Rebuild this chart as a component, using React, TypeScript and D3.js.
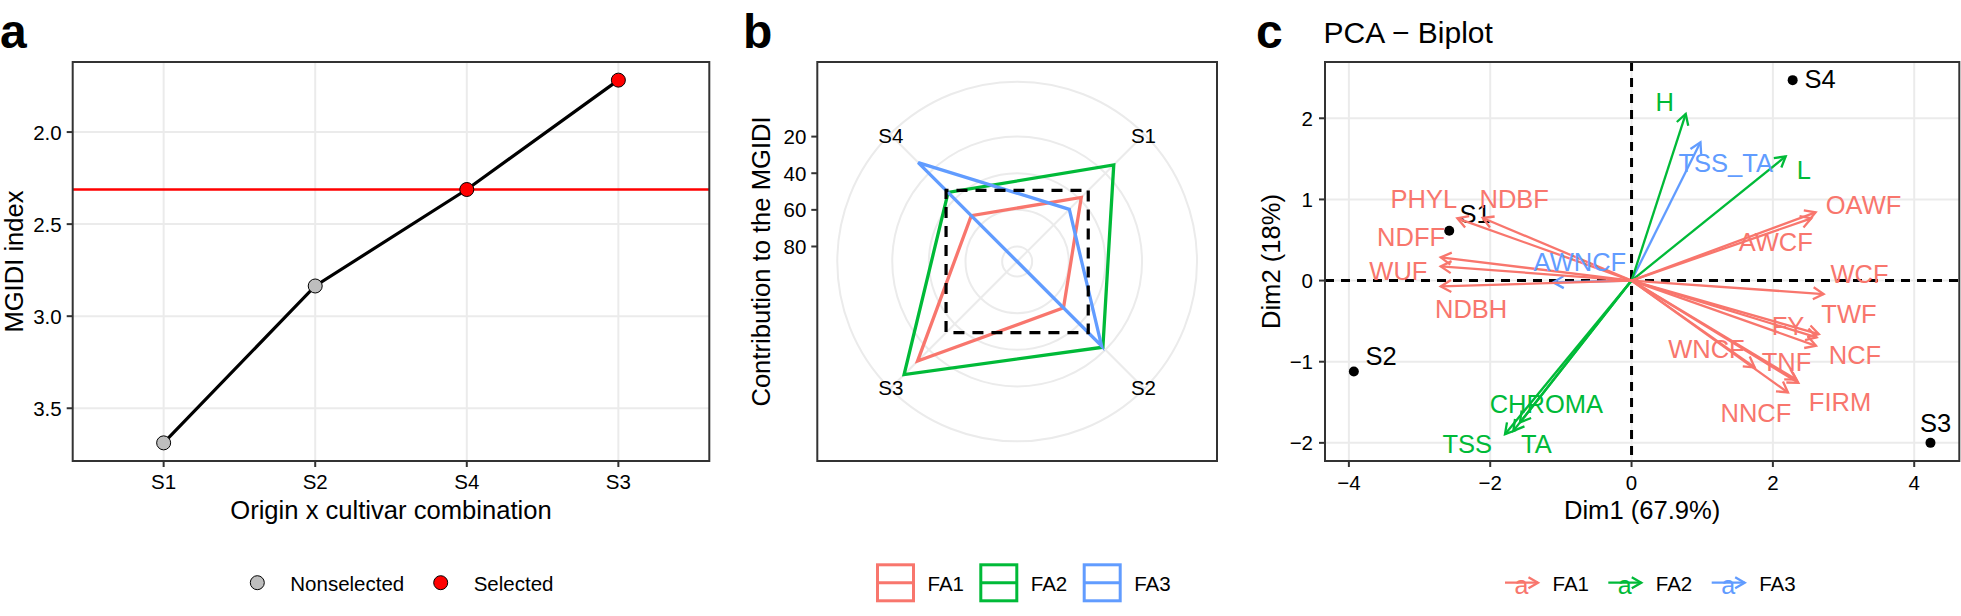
import React from "react";
import * as d3 from "d3";

const FONT = "'Liberation Sans', Arial, Helvetica, sans-serif";
const RED = "#F8766D";
const GREEN = "#00BA38";
const BLUE = "#619CFF";
const GRID = "#EBEBEB";
const BORDER = "#333333";

// ---------- Panel a data ----------
const genotypes = ["S1", "S2", "S4", "S3"];
const mgidiIndex = [3.688, 2.836, 2.312, 1.718];
const selection = ["Nonselected", "Nonselected", "Selected", "Selected"];
const cutoffValue = 2.312;
const mgidiTicks = [2.0, 2.5, 3.0, 3.5];
const selectionLevels = ["Nonselected", "Selected"];

// ---------- Panel b data ----------
const radarGenotypes = ["S1", "S2", "S3", "S4"];
const factorNames = ["FA1", "FA2", "FA3"];
const contribFA1 = [38.7, 52.4, 11.3, 52.8];
const contribFA2 = [13.6, 22.0, 0.9, 34.9];
const contribFA3 = [47.9, 23.0, 88.2, 11.8];
const idealContribution = 33.3;
const contribTicks = [20, 40, 60, 80];

// ---------- Panel c data ----------
const indNames = ["S1", "S2", "S3", "S4"];
const indDim1 = [-2.58, -3.93, 4.23, 2.28];
const indDim2 = [0.615, -1.12, -2.0, 2.47];
const indLabelDim1 = [-2.215, -3.543, 4.301, 2.668];
const indLabelDim2 = [0.82, -0.927, -1.757, 2.485];

const varNames = ["AWNCF", "TSS_TA", "PHYL", "NDBF", "NDFF", "WUF", "NDBH", "OAWF", "AWCF", "WCF", "TWF", "FY", "NCF", "WNCF", "TNF", "FIRM", "NNCF", "H", "L", "CHROMA", "TSS", "TA"];
const varGroup = ["FA3", "FA3", "FA1", "FA1", "FA1", "FA1", "FA1", "FA1", "FA1", "FA1", "FA1", "FA1", "FA1", "FA1", "FA1", "FA1", "FA1", "FA2", "FA2", "FA2", "FA2", "FA2"];
const varDim1 = [-1.108, 0.975, -2.465, -2.106, -2.70, -2.70, -2.70, 2.605, 2.544, 2.718, 2.65, 2.62, 2.61, 1.743, 2.33, 2.36, 2.213, 0.767, 2.181, -1.579, -1.791, -1.673];
const varDim2 = [-0.022, 1.704, 0.767, 0.771, 0.286, 0.175, -0.072, 0.841, 0.767, -0.166, -0.66, -0.70, -0.804, -1.07, -1.22, -1.26, -1.379, 2.053, 1.531, -1.748, -1.893, -1.852];
const varLabelDim1 = [-0.731, 1.333, -2.94, -1.66, -3.12, -3.30, -2.27, 3.283, 2.04, 3.227, 3.077, 2.215, 3.162, 1.06, 2.194, 2.95, 1.76, 0.471, 2.438, -1.206, -2.325, -1.347];
const varLabelDim2 = [0.224, 1.445, 1.005, 1.005, 0.533, 0.121, -0.351, 0.931, 0.478, 0.08, -0.413, -0.557, -0.919, -0.845, -1.009, -1.494, -1.634, 2.2, 1.362, -1.523, -2.016, -2.016];
const dimTicks1 = [-4, -2, 0, 2, 4];
const dimTicks2 = [-2, -1, 0, 1, 2];

const groupColor = d3.scaleOrdinal<string, string>().domain(factorNames).range([RED, GREEN, BLUE]);

const TICK = 20.5;
const TITLE = 25.6;

function expand(ext: [number, number], f = 0.05): [number, number] {
  const r = ext[1] - ext[0];
  return [ext[0] - r * f, ext[1] + r * f];
}

function PanelA() {
  const P = { l: 72.7, r: 709.3, t: 62, b: 461 };
  const x = d3.scalePoint<string>().domain(genotypes).range([P.l, P.r]).padding(0.6);
  const y = d3.scaleLinear().domain(expand(d3.extent(mgidiIndex) as [number, number])).range([P.t, P.b]);
  const line = d3.line<number>().x((_, i) => x(genotypes[i])!).y((d) => y(d));
  const fillOf = (s: string) => (s === "Selected" ? "#FF0000" : "#BEBEBE");
  return (
    <g>
      {genotypes.map((g) => (
        <line key={"gx" + g} x1={x(g)} x2={x(g)} y1={P.t} y2={P.b} stroke={GRID} strokeWidth={2} />
      ))}
      {mgidiTicks.map((t) => (
        <line key={"gy" + t} x1={P.l} x2={P.r} y1={y(t)} y2={y(t)} stroke={GRID} strokeWidth={2} />
      ))}
      <line x1={P.l} x2={P.r} y1={y(cutoffValue)} y2={y(cutoffValue)} stroke="#FF0000" strokeWidth={2.6} />
      <path d={line(mgidiIndex)!} fill="none" stroke="#000" strokeWidth={3.2} />
      {mgidiIndex.map((v, i) => (
        <circle key={"p" + i} cx={x(genotypes[i])} cy={y(v)} r={7} fill={fillOf(selection[i])} stroke="#000" strokeWidth={1} />
      ))}
      <rect x={P.l} y={P.t} width={P.r - P.l} height={P.b - P.t} fill="none" stroke={BORDER} strokeWidth={2} />
      {mgidiTicks.map((t) => (
        <g key={"ty" + t}>
          <line x1={P.l - 6} x2={P.l} y1={y(t)} y2={y(t)} stroke={BORDER} strokeWidth={2} />
          <text x={P.l - 11} y={y(t)} textAnchor="end" dominantBaseline="central" fontSize={TICK} fontFamily={FONT}>{t.toFixed(1)}</text>
        </g>
      ))}
      {genotypes.map((g) => (
        <g key={"tx" + g}>
          <line x1={x(g)} x2={x(g)} y1={P.b} y2={P.b + 6} stroke={BORDER} strokeWidth={2} />
          <text x={x(g)} y={481.5} textAnchor="middle" dominantBaseline="central" fontSize={TICK} fontFamily={FONT}>{g}</text>
        </g>
      ))}
      <text x={(P.l + P.r) / 2} y={510} textAnchor="middle" dominantBaseline="central" fontSize={TITLE} fontFamily={FONT}>Origin x cultivar combination</text>
      <text transform={`translate(14,${(P.t + P.b) / 2}) rotate(-90)`} textAnchor="middle" dominantBaseline="central" fontSize={TITLE} fontFamily={FONT}>MGIDI index</text>
      {/* legend */}
      {selectionLevels.map((s, i) => {
        const cx = [257.3, 440.7][i];
        return (
          <g key={"lg" + s}>
            <circle cx={cx} cy={582.7} r={7} fill={fillOf(s)} stroke="#000" strokeWidth={1} />
            <text x={cx + 33} y={583} dominantBaseline="central" fontSize={TICK} fontFamily={FONT}>{s}</text>
          </g>
        );
      })}
      <text x={0} y={48} fontSize={48} fontWeight="bold" fontFamily={FONT}>a</text>
    </g>
  );
}

function PanelB() {
  const P = { l: 817.3, r: 1217, t: 62, b: 461 };
  const cx = (P.l + P.r) / 2;
  const cy = (P.t + P.b) / 2;
  const allVals = [...contribFA1, ...contribFA2, ...contribFA3];
  const ext = d3.extent(allVals) as [number, number];
  const rMax = 0.4 * (P.r - P.l);
  const rOuter = 0.45 * (P.r - P.l);
  const r = d3.scaleLinear().domain([ext[1], ext[0]]).range([0, rMax]);
  const theta = d3.scalePoint<string>().domain(radarGenotypes).range([Math.PI / 4, (7 * Math.PI) / 4]);
  const pt = (a: number, rad: number): [number, number] => [cx + rad * Math.sin(a), cy - rad * Math.cos(a)];
  const series = [contribFA1, contribFA2, contribFA3];
  const poly = (vals: number[]) => {
    const pts = vals.map((v, i) => pt(theta(radarGenotypes[i])!, r(v)));
    return "M" + pts.map((p) => p.join(",")).join("L") + "Z";
  };
  const ideal = radarGenotypes.map(() => idealContribution);
  return (
    <g>
      {[...contribTicks.map((t) => r(t)), rOuter].map((rad, i) => (
        <circle key={"c" + i} cx={cx} cy={cy} r={rad} fill="none" stroke={GRID} strokeWidth={2} />
      ))}
      {radarGenotypes.map((g) => {
        const [x2, y2] = pt(theta(g)!, rOuter);
        return <line key={"sp" + g} x1={cx} y1={cy} x2={x2} y2={y2} stroke={GRID} strokeWidth={2} />;
      })}
      {series.map((s, i) => (
        <path key={"poly" + i} d={poly(s)} fill="none" stroke={groupColor(factorNames[i])} strokeWidth={3.3} strokeLinejoin="miter" />
      ))}
      <path d={poly(ideal)} fill="none" stroke="#000" strokeWidth={3.2} strokeDasharray="11 8" />
      {radarGenotypes.map((g) => {
        const [lx, ly] = pt(theta(g)!, 178.6);
        return (
          <text key={"lab" + g} x={lx} y={ly} textAnchor="middle" dominantBaseline="central" fontSize={TICK} fontFamily={FONT}>{g}</text>
        );
      })}
      <rect x={P.l} y={P.t} width={P.r - P.l} height={P.b - P.t} fill="none" stroke={BORDER} strokeWidth={2} />
      {contribTicks.map((t) => (
        <g key={"ty" + t}>
          <line x1={P.l - 6} x2={P.l} y1={cy - r(t)} y2={cy - r(t)} stroke={BORDER} strokeWidth={2} />
          <text x={P.l - 11} y={cy - r(t)} textAnchor="end" dominantBaseline="central" fontSize={TICK} fontFamily={FONT}>{t}</text>
        </g>
      ))}
      <text transform={`translate(761,${cy}) rotate(-90)`} textAnchor="middle" dominantBaseline="central" fontSize={TITLE} fontFamily={FONT}>Contribution to the MGIDI</text>
      {factorNames.map((f, i) => {
        const kx = [877.5, 980.8, 1084.2][i];
        return (
          <g key={"lg" + f}>
            <rect x={kx} y={564.8} width={36} height={36} fill="none" stroke={groupColor(f)} strokeWidth={3} />
            <line x1={kx} x2={kx + 36} y1={582.8} y2={582.8} stroke={groupColor(f)} strokeWidth={3} />
            <text x={kx + 50} y={583.3} dominantBaseline="central" fontSize={TICK} fontFamily={FONT}>{f}</text>
          </g>
        );
      })}
      <text x={743} y={48} fontSize={48} fontWeight="bold" fontFamily={FONT}>b</text>
    </g>
  );
}

function arrowHead(x1: number, y1: number, x2: number, y2: number, len = 12, ang = Math.PI / 6) {
  const a = Math.atan2(y2 - y1, x2 - x1);
  const p1 = [x2 - len * Math.cos(a - ang), y2 - len * Math.sin(a - ang)];
  const p2 = [x2 - len * Math.cos(a + ang), y2 - len * Math.sin(a + ang)];
  return `M${p1[0]},${p1[1]}L${x2},${y2}L${p2[0]},${p2[1]}`;
}

function PanelC() {
  const P = { l: 1325, r: 1959.3, t: 62, b: 461 };
  const xs = d3.scaleLinear().domain(expand(d3.extent([...indDim1, ...varDim1]) as [number, number])).range([P.l, P.r]);
  const ys = d3.scaleLinear().domain(expand(d3.extent([...indDim2, ...varDim2]) as [number, number])).range([P.b, P.t]);
  const order = [...factorNames].reverse();
  const idx = varNames.map((_, i) => i).sort((a, b) => order.indexOf(varGroup[a]) - order.indexOf(varGroup[b]));
  const minus = (t: number) => (t < 0 ? "\u2212" + Math.abs(t) : String(t));
  return (
    <g>
      <defs>
        <clipPath id="clipC">
          <rect x={P.l} y={P.t} width={P.r - P.l} height={P.b - P.t} />
        </clipPath>
      </defs>
      {dimTicks1.map((t) => (
        <line key={"gx" + t} x1={xs(t)} x2={xs(t)} y1={P.t} y2={P.b} stroke={GRID} strokeWidth={2} />
      ))}
      {dimTicks2.map((t) => (
        <line key={"gy" + t} x1={P.l} x2={P.r} y1={ys(t)} y2={ys(t)} stroke={GRID} strokeWidth={2} />
      ))}
      <g clipPath="url(#clipC)">
        <line x1={xs(0)} x2={xs(0)} y1={P.t} y2={P.b} stroke="#000" strokeWidth={3} strokeDasharray="9 7" />
        <line x1={P.l} x2={P.r} y1={ys(0)} y2={ys(0)} stroke="#000" strokeWidth={3} strokeDasharray="9 7" />
      </g>
      {indNames.map((n, i) => (
        <circle key={"ind" + n} cx={xs(indDim1[i])} cy={ys(indDim2[i])} r={5} fill="#000" />
      ))}
      {indNames.map((n, i) => (
        <text key={"indl" + n} x={xs(indLabelDim1[i])} y={ys(indLabelDim2[i])} textAnchor="middle" dominantBaseline="central" fontSize={25.5} fontFamily={FONT}>{n}</text>
      ))}
      {idx.map((i) => {
        const x1 = xs(0), y1 = ys(0), x2 = xs(varDim1[i]), y2 = ys(varDim2[i]);
        const c = groupColor(varGroup[i]);
        return (
          <g key={"v" + i}>
            <line x1={x1} y1={y1} x2={x2} y2={y2} stroke={c} strokeWidth={2.3} />
            <path d={arrowHead(x1, y1, x2, y2)} fill="none" stroke={c} strokeWidth={2.3} />
          </g>
        );
      })}
      {idx.map((i) => (
        <text key={"vl" + i} x={xs(varLabelDim1[i])} y={ys(varLabelDim2[i])} textAnchor="middle" dominantBaseline="central" fontSize={25.5} fontFamily={FONT} fill={groupColor(varGroup[i])}>{varNames[i]}</text>
      ))}
      <rect x={P.l} y={P.t} width={P.r - P.l} height={P.b - P.t} fill="none" stroke={BORDER} strokeWidth={2} />
      {dimTicks1.map((t) => (
        <g key={"tx" + t}>
          <line x1={xs(t)} x2={xs(t)} y1={P.b} y2={P.b + 6} stroke={BORDER} strokeWidth={2} />
          <text x={xs(t)} y={482.7} textAnchor="middle" dominantBaseline="central" fontSize={TICK} fontFamily={FONT}>{minus(t)}</text>
        </g>
      ))}
      {dimTicks2.map((t) => (
        <g key={"ty" + t}>
          <line x1={P.l - 6} x2={P.l} y1={ys(t)} y2={ys(t)} stroke={BORDER} strokeWidth={2} />
          <text x={P.l - 12} y={ys(t)} textAnchor="end" dominantBaseline="central" fontSize={TICK} fontFamily={FONT}>{minus(t)}</text>
        </g>
      ))}
      <text x={(P.l + P.r) / 2} y={510} textAnchor="middle" dominantBaseline="central" fontSize={TITLE} fontFamily={FONT}>Dim1 (67.9%)</text>
      <text transform={`translate(1271,${(P.t + P.b) / 2}) rotate(-90)`} textAnchor="middle" dominantBaseline="central" fontSize={TITLE} fontFamily={FONT}>Dim2 (18%)</text>
      <text x={1323.6} y={43.2} fontSize={30} fontFamily={FONT}>PCA − Biplot</text>
      {factorNames.map((f, i) => {
        const kx = [1505, 1608.3, 1711.7][i];
        const c = groupColor(f);
        return (
          <g key={"lg" + f}>
            <line x1={kx} x2={kx + 33} y1={582.7} y2={582.7} stroke={c} strokeWidth={2.3} />
            <path d={arrowHead(kx, 582.7, kx + 33, 582.7, 11)} fill="none" stroke={c} strokeWidth={2.3} />
            <text x={kx + 16.5} y={585} textAnchor="middle" dominantBaseline="central" fontSize={25} fontFamily={FONT} fill={c}>a</text>
            <text x={kx + 47.5} y={583} dominantBaseline="central" fontSize={TICK} fontFamily={FONT}>{f}</text>
          </g>
        );
      })}
      <text x={1256} y={48} fontSize={48} fontWeight="bold" fontFamily={FONT}>c</text>
    </g>
  );
}

export default function App() {
  return (
    <div style={{ position: "absolute", left: 0, top: 0, width: 1961, height: 616, background: "#fff" }}>
      <svg width={1961} height={616} style={{ display: "block" }}>
        <rect width={1961} height={616} fill="#fff" />
        <PanelA />
        <PanelB />
        <PanelC />
      </svg>
    </div>
  );
}
